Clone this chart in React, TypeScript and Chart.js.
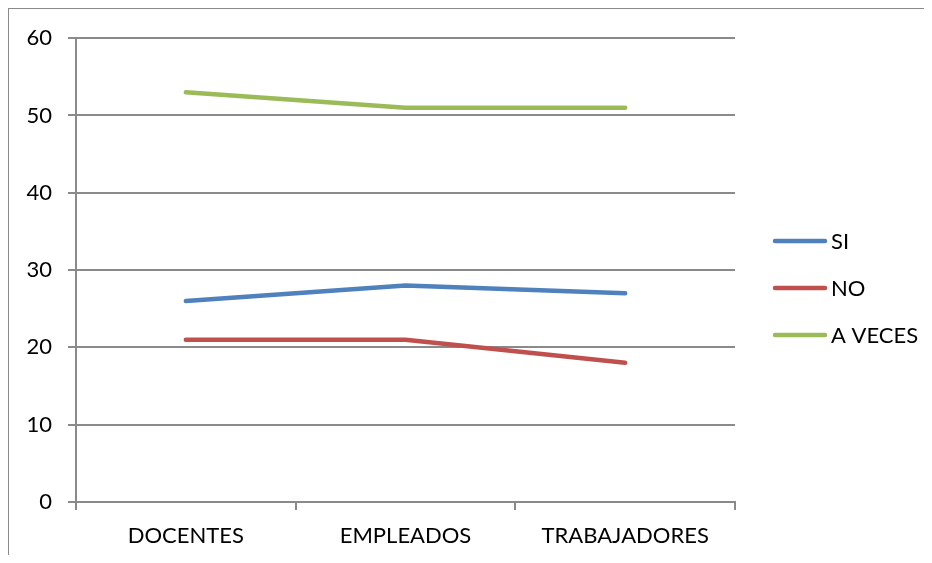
import React, { useEffect, useRef } from "react";
import { Chart, registerables } from "chart.js";

Chart.register(...registerables);

const categories = ["DOCENTES", "EMPLEADOS", "TRABAJADORES"];
const siValues = [26, 28, 27];
const noValues = [21, 21, 18];
const aVecesValues = [53, 51, 51];
const yTicks = [0, 10, 20, 30, 40, 50, 60];

const FONT = "Lato, 'Open Sans', sans-serif";
const GRID = "#8a8a8a";

// Legend drawn at the right of the plot: short line sample followed by the label.
const sideLegend = {
  id: "sideLegend",
  afterDraw(chart: any) {
    const { ctx, chartArea } = chart;
    const x0 = chartArea.right + 38;
    const sample = 54;
    const gap = 4;
    const step = 47;
    const items = chart.data.datasets;
    const midY = chart.height / 2 + 2;
    const startY = midY - ((items.length - 1) * step) / 2;
    ctx.save();
    items.forEach((ds: any, i: number) => {
      const y = startY + i * step;
      ctx.beginPath();
      ctx.strokeStyle = ds.borderColor;
      ctx.lineWidth = ds.borderWidth;
      ctx.lineCap = "round";
      ctx.moveTo(x0 + 2, y);
      ctx.lineTo(x0 + sample - 2, y);
      ctx.stroke();
      ctx.fillStyle = "#000";
      ctx.font = `22px ${FONT}`;
      ctx.textBaseline = "middle";
      ctx.textAlign = "left";
      ctx.fillText(ds.label, x0 + sample + gap, y + 1);
    });
    ctx.restore();
  },
};

export default function App() {
  const ref = useRef<HTMLCanvasElement | null>(null);

  useEffect(() => {
    if (!ref.current) return;
    const line = (label: string, data: number[], color: string) => ({
      label,
      data,
      borderColor: color,
      backgroundColor: color,
      borderWidth: 4.5,
      borderCapStyle: "round" as const,
      borderJoinStyle: "round" as const,
      pointRadius: 0,
      pointHoverRadius: 0,
      tension: 0,
      fill: false,
    });
    const chart = new Chart(ref.current, {
      type: "line",
      data: {
        labels: categories,
        datasets: [
          line("SI", siValues, "#4f81bd"),
          line("NO", noValues, "#c0504d"),
          line("A VECES", aVecesValues, "#9bbb59"),
        ],
      },
      options: {
        responsive: false,
        animation: false,
        devicePixelRatio: 1,
        layout: { padding: { left: 0, top: 28, right: 197, bottom: 0 } },
        plugins: { legend: { display: false }, tooltip: { enabled: false } },
        scales: {
          x: {
            type: "category",
            offset: true,
            grid: {
              offset: true,
              drawOnChartArea: false,
              drawTicks: true,
              tickLength: 8,
              color: GRID,
              lineWidth: 2,
            },
            border: { display: true, color: GRID, width: 2 },
            ticks: {
              color: "#000",
              font: { family: FONT, size: 22 },
              padding: 13,
              maxRotation: 0,
              autoSkip: false,
            },
            afterFit: (s: any) => {
              s.height = 61;
            },
          },
          y: {
            min: 0,
            max: 60,
            afterBuildTicks: (s: any) => {
              s.ticks = yTicks.map((v) => ({ value: v }));
            },
            grid: { color: GRID, lineWidth: 2, tickLength: 8, drawTicks: true },
            border: { display: true, color: GRID, width: 2 },
            ticks: {
              color: "#000",
              font: { family: FONT, size: 22 },
              padding: 16,
            },
            afterFit: (s: any) => {
              s.width = 67;
            },
          },
        },
      },
      plugins: [sideLegend],
    });
    return () => chart.destroy();
  }, []);

  return (
    <div
      style={{
        width: 923,
        height: 554,
        marginBottom: -8,
        borderTop: "1px solid #8a8a8a",
        borderLeft: "1px solid #8a8a8a",
        background: "#fff",
      }}
    >
      <canvas ref={ref} width={923} height={554} style={{ display: "block" }} />
    </div>
  );
}
